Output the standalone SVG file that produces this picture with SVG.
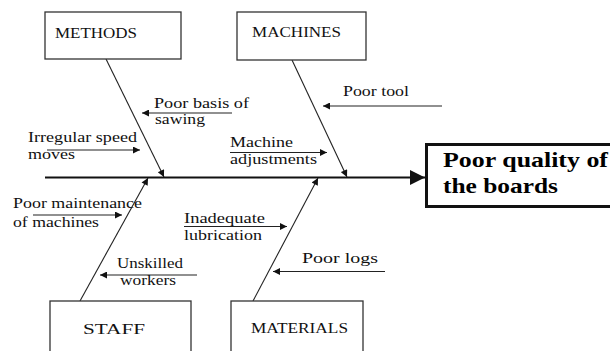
<svg xmlns="http://www.w3.org/2000/svg" width="610" height="351" viewBox="0 0 610 351">
  <style>
    .box { fill: #fff; stroke: #333; stroke-width: 1.3; }
    .effect { fill: #fff; stroke: #111; stroke-width: 3; }
    .bone { stroke: #222; stroke-width: 1.1; fill: none; }
    .spine { stroke: #111; stroke-width: 2.2; fill: none; }
    text { font-family: 'Liberation Serif', 'DejaVu Serif', serif; fill: #111; }
    .cat { font-size: 15px; }
    .lbl { font-size: 15px; }
    .title { font-size: 22px; font-weight: bold; fill: #000; }
  </style>
  <defs>
    <marker id="arr" viewBox="0 0 10 10" refX="10" refY="5" markerWidth="9" markerHeight="7" markerUnits="userSpaceOnUse" orient="auto">
      <path d="M0,0 L10,5 L0,10 z" fill="#111"/>
    </marker>
    <marker id="bigarr" viewBox="0 0 10 10" refX="10" refY="5" markerWidth="17" markerHeight="15" markerUnits="userSpaceOnUse" orient="auto">
      <path d="M0,0 L10,5 L0,10 z" fill="#111"/>
    </marker>
  </defs>

  <!-- connectors: spine, main bones and cause arrows -->
  <g id="connectors">
    <line class="spine" x1="45" y1="177.5" x2="425" y2="177.5" marker-end="url(#bigarr)"/>
    <line class="bone" x1="106" y1="59" x2="164" y2="177" marker-end="url(#arr)"/>
    <line class="bone" x1="292" y1="60" x2="347" y2="177" marker-end="url(#arr)"/>
    <line class="bone" x1="80" y1="301" x2="148" y2="178" marker-end="url(#arr)"/>
    <line class="bone" x1="253" y1="301" x2="318" y2="178" marker-end="url(#arr)"/>
    <line class="bone" x1="232" y1="113" x2="142" y2="113" marker-end="url(#arr)"/>
    <line class="bone" x1="47" y1="150" x2="140" y2="150" marker-end="url(#arr)"/>
    <line class="bone" x1="230" y1="152.5" x2="327" y2="152.5" marker-end="url(#arr)"/>
    <line class="bone" x1="442" y1="106" x2="323" y2="106" marker-end="url(#arr)"/>
    <line class="bone" x1="33" y1="215" x2="122" y2="215" marker-end="url(#arr)"/>
    <line class="bone" x1="197" y1="275" x2="100" y2="275" marker-end="url(#arr)"/>
    <line class="bone" x1="184" y1="226.5" x2="287" y2="226.5" marker-end="url(#arr)"/>
    <line class="bone" x1="385" y1="271.5" x2="273" y2="271.5" marker-end="url(#arr)"/>
  </g>

  <g id="methods">
    <rect class="box" x="45" y="12" width="136" height="47"/>
    <text class="cat" x="55" y="38" textLength="82" lengthAdjust="spacingAndGlyphs">METHODS</text>
  </g>
  <g id="machines">
    <rect class="box" x="237" y="12" width="129" height="48"/>
    <text class="cat" x="252" y="37" textLength="89" lengthAdjust="spacingAndGlyphs">MACHINES</text>
  </g>
  <g id="staff">
    <rect class="box" x="50" y="301" width="141" height="60"/>
    <text class="cat" x="83" y="334" font-size="19" textLength="62" lengthAdjust="spacingAndGlyphs">STAFF</text>
  </g>
  <g id="materials">
    <rect class="box" x="231" y="301" width="132" height="60"/>
    <text class="cat" x="251" y="333" textLength="97" lengthAdjust="spacingAndGlyphs">MATERIALS</text>
  </g>
  <g id="effect">
    <rect class="effect" x="426.5" y="144.5" width="200" height="62"/>
    <text class="title" x="443" y="167" textLength="165" lengthAdjust="spacingAndGlyphs">Poor quality of</text>
    <text class="title" x="443" y="193" textLength="115" lengthAdjust="spacingAndGlyphs">the boards</text>
  </g>

  <g id="cause-basis">
    <text class="lbl" x="154" y="108" textLength="95" lengthAdjust="spacingAndGlyphs">Poor basis of</text>
    <text class="lbl" x="155" y="124" textLength="50" lengthAdjust="spacingAndGlyphs">sawing</text>
  </g>
  <g id="cause-speed">
    <text class="lbl" x="28" y="142" textLength="109" lengthAdjust="spacingAndGlyphs">Irregular speed</text>
    <text class="lbl" x="28" y="159" textLength="47" lengthAdjust="spacingAndGlyphs">moves</text>
  </g>
  <g id="cause-adjust">
    <text class="lbl" x="230" y="147" textLength="63" lengthAdjust="spacingAndGlyphs">Machine</text>
    <text class="lbl" x="230" y="164" textLength="87" lengthAdjust="spacingAndGlyphs">adjustments</text>
  </g>
  <g id="cause-tool">
    <text class="lbl" x="343" y="96" textLength="66" lengthAdjust="spacingAndGlyphs">Poor tool</text>
  </g>
  <g id="cause-maintenance">
    <text class="lbl" x="13" y="208" textLength="129" lengthAdjust="spacingAndGlyphs">Poor maintenance</text>
    <text class="lbl" x="13" y="227" textLength="86" lengthAdjust="spacingAndGlyphs">of machines</text>
  </g>
  <g id="cause-unskilled">
    <text class="lbl" x="117" y="268" textLength="66" lengthAdjust="spacingAndGlyphs">Unskilled</text>
    <text class="lbl" x="120" y="285" textLength="56" lengthAdjust="spacingAndGlyphs">workers</text>
  </g>
  <g id="cause-lubrication">
    <text class="lbl" x="184" y="223" textLength="81" lengthAdjust="spacingAndGlyphs">Inadequate</text>
    <text class="lbl" x="184" y="240" textLength="78" lengthAdjust="spacingAndGlyphs">lubrication</text>
  </g>
  <g id="cause-logs">
    <text class="lbl" x="302" y="263" font-size="17" textLength="76" lengthAdjust="spacingAndGlyphs">Poor logs</text>
  </g>
</svg>
